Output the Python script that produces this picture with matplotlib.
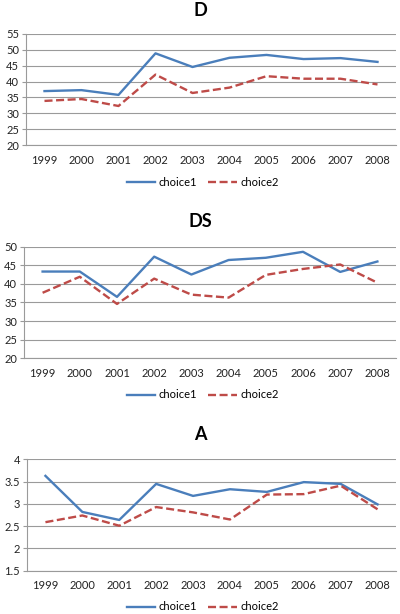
import matplotlib
matplotlib.use("Agg")
import matplotlib.pyplot as plt
from matplotlib.lines import Line2D

years = ["1999", "2000", "2001", "2002", "2003", "2004", "2005", "2006", "2007", "2008"]

d_choice1 = [37.0, 37.3, 35.8, 48.9, 44.6, 47.5, 48.4, 47.1, 47.4, 46.2]
d_choice2 = [33.9, 34.5, 32.3, 42.2, 36.4, 38.1, 41.7, 40.9, 40.9, 39.1]

ds_choice1 = [43.3, 43.3, 36.5, 47.3, 42.5, 46.4, 47.0, 48.6, 43.2, 46.0]
ds_choice2 = [37.6, 41.9, 34.6, 41.4, 37.1, 36.3, 42.4, 44.0, 45.2, 40.3]

a_choice1 = [3.63, 2.82, 2.64, 3.45, 3.18, 3.33, 3.27, 3.49, 3.45, 2.99]
a_choice2 = [2.59, 2.74, 2.51, 2.93, 2.81, 2.65, 3.21, 3.22, 3.41, 2.88]

d_ticks = [20, 25, 30, 35, 40, 45, 50, 55]
ds_ticks = [20, 25, 30, 35, 40, 45, 50]
a_ticks = [1.5, 2, 2.5, 3, 3.5, 4]
a_ticklabels = ["1.5", "2", "2.5", "3", "3.5", "4"]

titles = ["D", "DS", "A"]
series_names = ["choice1", "choice2"]

BLUE = "#4A7EBB"
RED = "#BE4B48"
GRID = "#9A9A9A"
FONT = "Lato"
LW = 1.7
DASH = (3.4, 1.5)

fig = plt.figure(figsize=(4.0, 6.14), dpi=100)

panels = [
    ([26 / 400, 1 - 145 / 614, 370 / 400, 111 / 614], 10, 182, d_choice1, d_choice2, d_ticks, [str(t) for t in d_ticks], titles[0]),
    ([24 / 400, 1 - 358.3 / 614, 372 / 400, 111.7 / 614], 221.5, 395, ds_choice1, ds_choice2, ds_ticks, [str(t) for t in ds_ticks], titles[1]),
    ([27 / 400, 1 - 570.7 / 614, 369 / 400, 111.3 / 614], 434, 607, a_choice1, a_choice2, a_ticks, a_ticklabels, titles[2]),
]

x = list(range(len(years)))
for rect, ty, ly, s1, s2, ticks, tlabels, title in panels:
    ax = fig.add_axes(rect)
    ax.plot(x, s1, color=BLUE, lw=LW, zorder=3)
    ax.plot(x, s2, color=RED, lw=LW, dashes=DASH, zorder=3)
    ax.set_xlim(-0.5, 9.5)
    ax.set_ylim(ticks[0], ticks[-1])
    ax.set_yticks(ticks)
    ax.set_yticklabels(tlabels, fontfamily=FONT, fontsize=8, color="#222222")
    ax.set_xticks(x)
    ax.set_xticklabels(years, fontfamily=FONT, fontsize=8, color="#222222")
    ax.tick_params(axis="x", length=0, pad=7)
    ax.tick_params(axis="y", length=3, color=GRID, width=0.8, pad=2)
    for t in ticks:
        ax.axhline(t, color=GRID, lw=0.8, zorder=1)
    for s in ["top", "right"]:
        ax.spines[s].set_visible(False)
    ax.spines["left"].set_color(GRID)
    ax.spines["left"].set_linewidth(0.8)
    ax.spines["bottom"].set_color(GRID)
    ax.spines["bottom"].set_linewidth(0.8)
    fig.text(0.5, 1 - ty / 614, title, ha="center", va="center",
             fontfamily=FONT, fontweight="bold", fontsize=13)
    handles = [Line2D([], [], color=BLUE, lw=LW),
               Line2D([], [], color=RED, lw=LW, dashes=DASH)]
    fig.legend(handles, series_names, loc="center", bbox_to_anchor=(0.507, 1 - ly / 614),
               ncol=2, frameon=False, prop={"family": FONT, "size": 8},
               handlelength=2.6, handletextpad=0.3, columnspacing=1.0,
               borderpad=0.1)

fig.savefig("out.png", dpi=100)
